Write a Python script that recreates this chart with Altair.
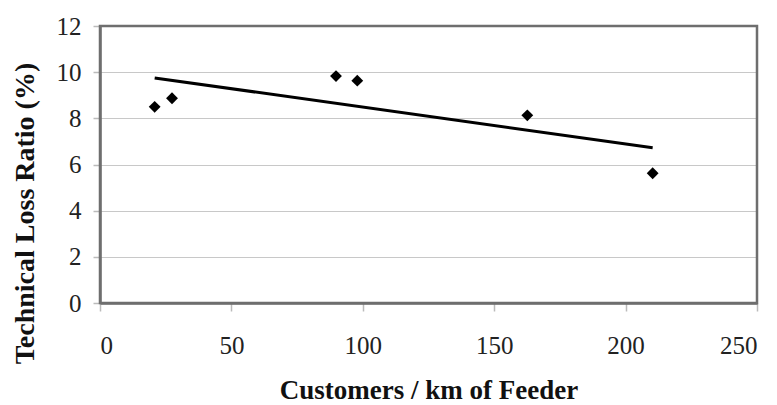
import altair as alt
import pandas as pd

# Scatter data
customers_per_km = [20.8, 27.4, 89.8, 97.9, 162.6, 210.3]
loss_ratio = [8.5, 8.87, 9.83, 9.63, 8.13, 5.62]

# Trend line end points
trend_x = [20.8, 210.3]
trend_y = [9.75, 6.73]

x_ticks = [0, 50, 100, 150, 200, 250]
y_ticks = [0, 2, 4, 6, 8, 10, 12]

pts = pd.DataFrame({"x": customers_per_km, "y": loss_ratio})
trend = pd.DataFrame({"x": trend_x, "y": trend_y})

FONT = "Liberation Serif"
BORDER = "#6e6e6e"

xscale = alt.Scale(domain=[0, 250], nice=False)
yscale = alt.Scale(domain=[0, 12], nice=False)

x_axis = alt.Axis(
    values=x_ticks, grid=False, title="Customers / km of Feeder",
    labelFont=FONT, labelFontSize=25, labelColor="#222222",
    titleFont=FONT, titleFontSize=27, titleFontWeight="bold", titleColor="#111111",
    domain=True, domainColor=BORDER, domainWidth=2.5,
    ticks=True, tickColor="#bbbbbb", tickSize=8, tickWidth=1.5,
    labelPadding=22, titleY=95, titleBaseline="alphabetic",
)
y_axis = alt.Axis(
    values=y_ticks, grid=True, gridColor="#c8c8c8", gridWidth=1.2,
    title="Technical Loss Ratio (%)",
    labelFont=FONT, labelFontSize=25, labelColor="#222222",
    titleFont=FONT, titleFontSize=28, titleFontWeight="bold", titleColor="#111111",
    domain=True, domainColor=BORDER, domainWidth=2.5,
    ticks=True, tickColor="#bbbbbb", tickSize=7, tickWidth=1.5,
    labelPadding=12, titleX=-75, titleY=187, titleAngle=-90,
    titleAlign="center", titleBaseline="middle",
)

frame = alt.Chart(pd.DataFrame({"k": [0]})).mark_rect(
    fill=None, stroke=BORDER, strokeWidth=2.5
).encode(
    x=alt.value(0), x2=alt.value(657), y=alt.value(0), y2=alt.value(277)
)

points = alt.Chart(pts).mark_point(
    shape="diamond", filled=True, color="black", size=140, opacity=1
).encode(
    x=alt.X("x:Q", scale=xscale, axis=x_axis),
    y=alt.Y("y:Q", scale=yscale, axis=y_axis),
)

line = alt.Chart(trend).mark_line(color="black", strokeWidth=3).encode(
    x=alt.X("x:Q", scale=xscale),
    y=alt.Y("y:Q", scale=yscale),
)

chart = alt.layer(line, points, frame).properties(
    width=657, height=277,
    padding={"left": 92, "top": 18, "right": 12, "bottom": 115},
    autosize=alt.AutoSizeParams(type="none"),
).configure_view(
    stroke=BORDER, strokeWidth=2.5
).configure(background="white")

chart.save("out.html", embed_options={"renderer": "svg", "actions": False})
